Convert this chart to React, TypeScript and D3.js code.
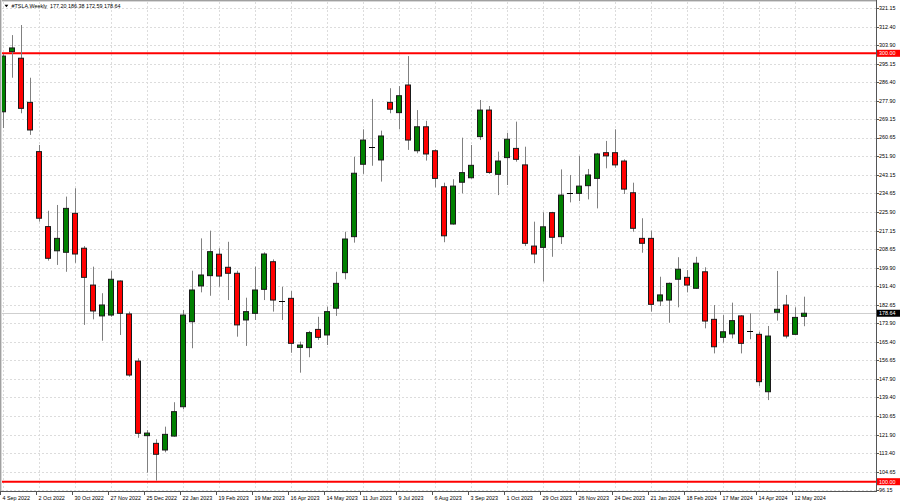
import React from 'react';
import * as d3 from 'd3';

const opens = [272.7,300.8,297.7,277.1,254.1,219.1,207.8,207.1,225.3,209.0,191.8,177.4,177.8,193.7,178.3,156.3,121.5,117.9,114.8,121.3,135.0,174.7,191.4,196.2,206.2,200.1,197.3,175.5,178.6,189.8,202.7,184.4,185.6,162.7,162.6,171.1,168.5,181.0,197.6,214.4,248.2,256.1,250.2,277.1,272.3,285.2,254.5,265.7,254.5,237.7,220.3,239.8,241.9,261.1,273.5,243.5,251.3,255.6,247.9,210.0,209.4,225.6,214.4,234.9,234.6,238.2,241.6,253.6,253.6,249.7,234.9,213.6,213.6,184.4,184.8,194.5,195.4,190.3,198.0,175.8,167.4,169.0,177.4,170.4,168.8,142.0,179.1,182.5,168.8,177.2];
const highs = [299.7,308.5,313.2,288.6,257.2,226.5,229.2,233.1,237.0,210.0,200.4,188.0,198.5,194.0,179.4,157.6,124.1,119.8,125.7,137.1,180.2,198.5,213.6,217.2,209.0,212.0,198.5,185.9,200.4,207.1,203.8,191.0,189.0,165.4,170.4,177.0,181.7,198.0,216.7,251.7,264.5,278.7,263.9,283.7,284.7,298.7,273.5,268.5,255.2,239.6,241.2,260.6,257.2,278.2,275.4,254.1,262.9,268.1,256.4,221.4,225.8,226.0,245.8,243.2,252.1,246.0,253.5,259.1,264.5,250.5,239.6,223.0,217.2,195.7,193.0,204.8,198.8,205.0,200.1,182.5,177.8,183.6,177.8,178.6,170.0,172.7,198.4,187.2,181.4,186.38];
const lows = [265.1,288.6,272.0,261.9,221.4,203.2,201.2,198.0,202.2,173.2,175.8,165.8,177.0,168.5,149.0,120.5,104.2,100.5,113.7,121.0,133.8,162.3,188.4,186.8,191.0,184.8,167.7,163.4,175.5,184.8,179.4,175.5,160.2,150.9,158.1,166.2,163.8,177.4,194.5,211.6,243.7,247.5,240.1,272.0,264.5,254.9,253.3,249.9,237.4,211.8,220.0,234.6,241.5,259.5,243.7,233.8,238.5,249.4,210.0,202.0,193.4,205.0,211.0,230.4,231.0,231.8,227.6,246.3,246.6,234.3,216.7,206.9,179.4,182.0,174.2,181.4,188.4,190.0,171.6,159.9,164.9,166.9,159.9,166.5,144.7,138.1,175.2,166.9,168.5,172.59];
const closes = [298.7,302.5,274.3,264.2,223.0,204.3,213.6,227.6,206.3,195.4,179.7,182.5,194.5,178.6,149.8,122.6,122.7,112.8,122.1,132.7,177.8,189.5,196.5,207.4,196.0,197.3,173.2,179.4,189.5,206.3,184.8,184.4,164.6,163.8,169.6,167.4,179.4,192.6,213.3,244.0,259.5,256.1,261.4,273.9,280.2,259.5,265.7,253.0,241.6,214.8,238.0,244.3,247.7,273.5,244.4,249.7,259.9,250.5,211.3,206.3,219.0,214.1,233.8,234.9,238.0,243.2,253.0,252.1,247.9,236.6,218.3,211.3,182.8,187.2,192.6,199.2,191.8,202.0,175.0,163.0,170.0,175.2,164.6,170.4,146.7,168.0,180.5,168.0,176.7,178.64];

const dateLabels = ['4 Sep 2022','2 Oct 2022','30 Oct 2022','27 Nov 2022','25 Dec 2022','22 Jan 2023','19 Feb 2023','19 Mar 2023','16 Apr 2023','14 May 2023','11 Jun 2023','9 Jul 2023','6 Aug 2023','3 Sep 2023','1 Oct 2023','29 Oct 2023','26 Nov 2023','24 Dec 2023','21 Jan 2024','18 Feb 2024','17 Mar 2024','14 Apr 2024','12 May 2024'];
const dateLabelIndex = [0,4,8,12,16,20,24,28,32,36,40,44,48,52,56,60,64,68,72,76,80,84,88];

const priceTicks = [321.15,312.40,303.90,295.15,286.40,277.90,269.15,260.65,251.90,243.15,234.65,225.90,217.15,208.65,199.90,191.40,182.65,173.90,165.40,156.65,147.90,139.40,130.65,121.90,113.40,104.65,96.15];
const levels = [300, 100];
const lastPrice = 178.64;
const headerText = '#TSLA,Weekly  177.20 186.38 172.59 178.64';

const FONT = "'Liberation Sans', Arial, sans-serif";

export default function App() {
  const W = 900, H = 503;
  const plotRight = 876;
  const plotBottom = 491;
  const x = d3.scaleLinear().domain([0, 89]).range([3, 804]);
  const y = d3.scaleLinear().domain([100, 300]).range([481.7, 53.3]);
  const fs = 5.4;

  return (
    <svg width={W} height={H} style={{ position: 'absolute', left: 0, top: 0, display: 'block', background: '#fff' }}>
      <defs>
        <clipPath id="plot">
          <rect x={2} y={2} width={plotRight - 2} height={plotBottom - 2} />
        </clipPath>
      </defs>
      <rect x={0} y={0} width={W} height={H} fill="#fff" />
      <g clipPath="url(#plot)">
        {priceTicks.map((p, i) => (
          <line key={'hg' + i} x1={2} x2={plotRight} y1={Math.round(y(p)) + 0.5} y2={Math.round(y(p)) + 0.5}
            stroke="#dcdcdc" strokeWidth={1} strokeDasharray="2,2" />
        ))}
        {dateLabelIndex.map((idx, i) => (
          <line key={'vg' + i} x1={Math.round(x(idx)) + 0.5} x2={Math.round(x(idx)) + 0.5} y1={2} y2={plotBottom}
            stroke="#dcdcdc" strokeWidth={1} strokeDasharray="2,2" />
        ))}
        <line x1={2} x2={plotRight} y1={Math.round(y(lastPrice)) + 0.5} y2={Math.round(y(lastPrice)) + 0.5} stroke="#cfcfcf" strokeWidth={1} />
        {levels.map((lv, i) => (
          <line key={'lv' + i} x1={2} x2={plotRight} y1={y(lv)} y2={y(lv)} stroke="#ff0000" strokeWidth={2} />
        ))}
        {opens.map((o, i) => {
          const c = closes[i];
          const cx = Math.round(x(i));
          const up = c >= o;
          const top = y(Math.max(o, c));
          const bot = y(Math.min(o, c));
          const doji = Math.abs(bot - top) < 0.8;
          return (
            <g key={'c' + i}>
              <line x1={cx + 0.5} x2={cx + 0.5} y1={y(highs[i])} y2={y(lows[i])} stroke="#808080" strokeWidth={1} />
              {doji ? (
                <line x1={cx - 3} x2={cx + 3} y1={Math.round(top) + 0.5} y2={Math.round(top) + 0.5} stroke="#000" strokeWidth={1} />
              ) : (
                <rect x={cx - 2.5} y={top} width={5} height={bot - top}
                  fill={up ? '#008000' : '#ff0000'} stroke="#1a1a1a" strokeWidth={1} />
              )}
            </g>
          );
        })}
      </g>
      <line x1={0} x2={plotRight} y1={0.5} y2={0.5} stroke="#a0a0a0" strokeWidth={1} />
      <line x1={0} x2={plotRight} y1={1.5} y2={1.5} stroke="#d8d8d8" strokeWidth={1} />
      <line x1={0.5} x2={0.5} y1={0} y2={plotBottom} stroke="#a0a0a0" strokeWidth={1} />
      <line x1={1.5} x2={1.5} y1={0} y2={plotBottom} stroke="#d8d8d8" strokeWidth={1} />
      <line x1={0} x2={plotRight + 0.5} y1={plotBottom + 0.5} y2={plotBottom + 0.5} stroke="#555" strokeWidth={1} />
      <line x1={plotRight + 0.5} x2={plotRight + 0.5} y1={0} y2={plotBottom + 1} stroke="#555" strokeWidth={1} />

      <path d="M4.5,4.8 L8.3,4.8 L6.4,7.2 Z" fill="#000" />
      <text x={11.5} y={8.2} fontFamily={FONT} fontSize={fs} fill="#000" style={{ whiteSpace: 'pre' }}>{headerText}</text>

      {priceTicks.map((p, i) => (
        <g key={'yt' + i}>
          <line x1={plotRight} x2={plotRight + 3} y1={Math.round(y(p)) + 0.5} y2={Math.round(y(p)) + 0.5} stroke="#555" strokeWidth={1} />
          <text x={879} y={y(p)} dy="0.35em" fontFamily={FONT} fontSize={fs} fill="#000">{p.toFixed(2)}</text>
        </g>
      ))}
      {levels.map((lv, i) => (
        <g key={'lb' + i}>
          <rect x={877} y={y(lv) - 3.5} width={23} height={7} fill="#ff0000" />
          <text x={879} y={y(lv)} dy="0.35em" fontFamily={FONT} fontSize={fs} fill="#fff">{lv.toFixed(2)}</text>
        </g>
      ))}
      <g>
        <rect x={877} y={y(lastPrice) - 3.5} width={23} height={7} fill="#000" />
        <text x={879} y={y(lastPrice)} dy="0.35em" fontFamily={FONT} fontSize={fs} fill="#fff">{lastPrice.toFixed(2)}</text>
      </g>

      {dateLabelIndex.map((idx, i) => {
        const cx = Math.round(x(idx));
        return (
          <g key={'xt' + i}>
            <line x1={cx - 2.5} x2={cx - 2.5} y1={plotBottom} y2={plotBottom + 4} stroke="#555" strokeWidth={1} />
            <text x={cx - 0.5} y={499.5} fontFamily={FONT} fontSize={fs} fill="#000">{dateLabels[i]}</text>
          </g>
        );
      })}
    </svg>
  );
}
